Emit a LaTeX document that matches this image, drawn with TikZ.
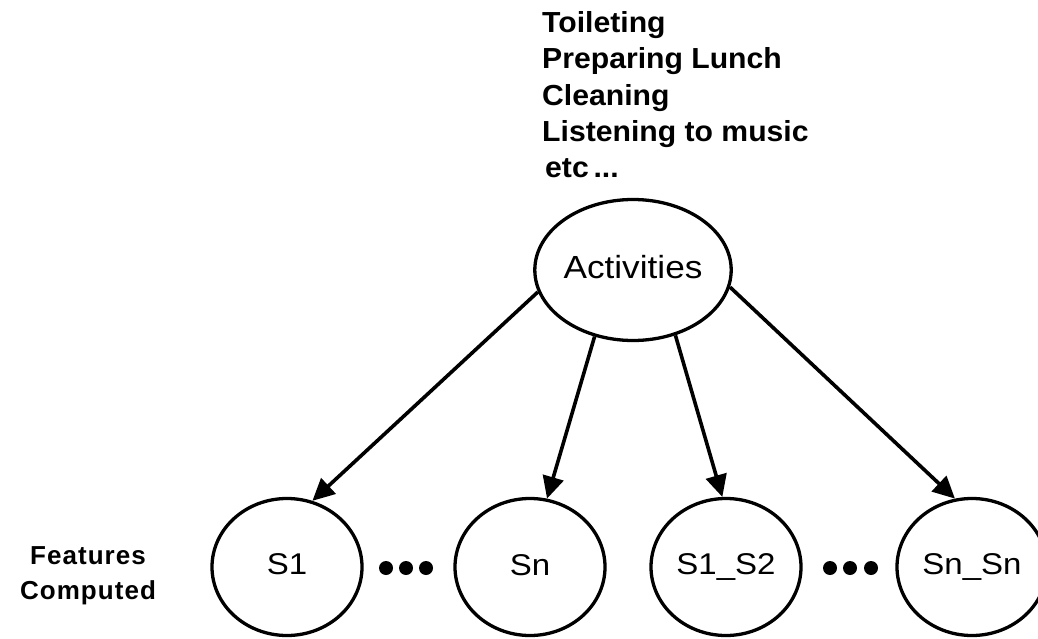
\documentclass[tikz,border=0pt]{standalone}
\usepackage{fontspec}
\setmainfont{Liberation Sans}
\newfontfamily\labfont[FakeStretch=1.1]{Liberation Sans}
\newfontfamily\headfont[FakeStretch=1.04]{Liberation Sans}
\newfontfamily\featfont[LetterSpace=4]{Liberation Sans}
\usetikzlibrary{shapes.geometric,arrows.meta}
\begin{document}
\begin{tikzpicture}[x=1pt,y=-1pt,
  state/.style={draw, line width=3.3pt, ellipse, minimum width=150pt, minimum height=137pt, inner sep=0pt,
    font=\labfont\fontsize{30}{30}\selectfont},
  arr/.style={line width=3.6pt, -{Triangle[length=22pt,width=21pt]}},
  dotn/.style={circle, fill, inner sep=0pt, minimum size=14pt},
  headtext/.style={align=left, inner sep=0pt, font=\headfont\bfseries\fontsize{29}{36.25}\selectfont},
  feattext/.style={align=center, inner sep=0pt, font=\featfont\bfseries\fontsize{26}{35}\selectfont}]
\useasboundingbox (0,0) rectangle (1038,639);
\node[headtext, anchor=north west] (list) at (542,11.5)
  {Toileting\\Preparing Lunch\\Cleaning\\Listening to music\\\hspace*{3pt}etc\,...};
\node[state, minimum width=155pt, minimum height=141pt, font=\labfont\fontsize{32}{32}\selectfont] (act) at (633,270) {\raisebox{7pt}{Activities}};
\node[state] (s1) at (287,567) {\raisebox{5pt}{S1}};
\node[state] (sn) at (530,567) {\raisebox{3pt}{Sn}};
\node[state] (s12) at (726,567) {\raisebox{1pt}{S1\_S2}};
\node[state] (snn) at (972,567) {\raisebox{5pt}{Sn\_Sn}};
\node[dotn] (d1) at (386,568) {};
\node[dotn] (d2) at (406,568) {};
\node[dotn] (d3) at (426,568) {};
\node[dotn] (d4) at (830,568) {};
\node[dotn] (d5) at (850,568) {};
\node[dotn] (d6) at (871,568) {};
\node[feattext] (feat) at (88,576) {Features\\Computed};
\draw[arr] (act.193) -- (s1.69);
\draw[arr] (act.240) -- (sn.76);
\draw[arr] (act.303) -- (s12.93);
\draw[arr] (act.350) -- (snn.104);
\end{tikzpicture}
\end{document}
